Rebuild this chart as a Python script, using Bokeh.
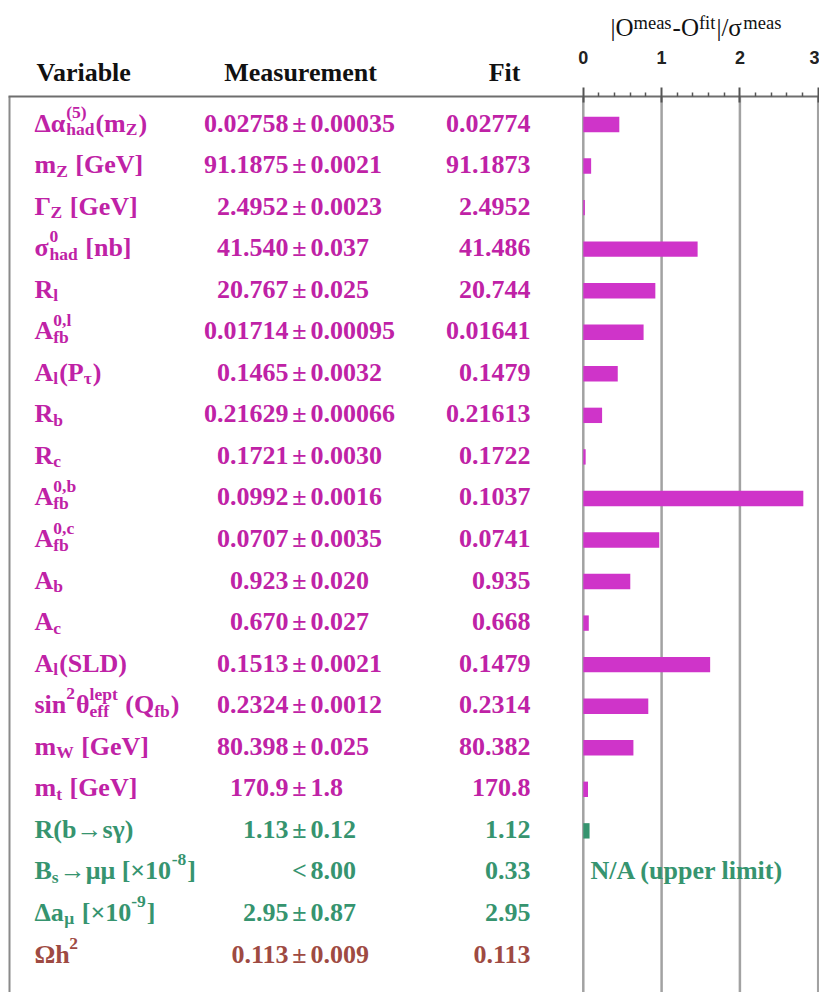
from bokeh.plotting import figure
from bokeh.models import ColumnDataSource, Range1d, LinearAxis, FixedTicker
from bokeh.core.properties import value
from bokeh.embed import file_html
from bokeh.resources import INLINE

# ---------------- data ----------------
variables = [
    "Δα^{(5)}_{had}(m_{Z})",
    "m_{Z} [GeV]",
    "Γ_{Z} [GeV]",
    "σ^{0}_{had} [nb]",
    "R_{l}",
    "A^{0,l}_{fb}",
    "A_{l}(P_{τ})",
    "R_{b}",
    "R_{c}",
    "A^{0,b}_{fb}",
    "A^{0,c}_{fb}",
    "A_{b}",
    "A_{c}",
    "A_{l}(SLD)",
    "sin^{2}θ^{lept}_{eff} (Q_{fb})",
    "m_{W} [GeV]",
    "m_{t} [GeV]",
    "R(b→sγ)",
    "B_{s}→μμ [×10^{-8}]",
    "Δa_{μ} [×10^{-9}]",
    "Ωh^{2}",
]
measurement = [
    "0.02758 ± 0.00035", "91.1875 ± 0.0021", "2.4952 ± 0.0023", "41.540 ± 0.037",
    "20.767 ± 0.025", "0.01714 ± 0.00095", "0.1465 ± 0.0032", "0.21629 ± 0.00066",
    "0.1721 ± 0.0030", "0.0992 ± 0.0016", "0.0707 ± 0.0035", "0.923 ± 0.020",
    "0.670 ± 0.027", "0.1513 ± 0.0021", "0.2324 ± 0.0012", "80.398 ± 0.025",
    "170.9 ± 1.8", "1.13 ± 0.12", "< 8.00", "2.95 ± 0.87", "0.113 ± 0.009",
]
fit = [
    "0.02774", "91.1873", "2.4952", "41.486", "20.744", "0.01641", "0.1479",
    "0.21613", "0.1722", "0.1037", "0.0741", "0.935", "0.668", "0.1479",
    "0.2314", "80.382", "170.8", "1.12", "0.33", "2.95", "0.113",
]
pull = [0.46, 0.10, 0.02, 1.46, 0.92, 0.77, 0.44, 0.24, 0.03, 2.81, 0.97,
        0.60, 0.07, 1.62, 0.83, 0.64, 0.06, 0.08, None, 0.0, 0.0]
group = ["ewpo"] * 17 + ["low"] * 3 + ["cosmo"]
headers = ["Variable", "Measurement", "Fit"]
axis_title = "|O^{meas}-O^{fit}|/σ^{meas}"
axis_ticks = [0, 1, 2, 3]
axis_minor = [0.2, 0.4, 0.6, 0.8, 1.2, 1.4, 1.6, 1.8, 2.2, 2.4, 2.6, 2.8]

TEXT_COLOR = {"ewpo": "#bf22a6", "low": "#36946f", "cosmo": "#9e4a42"}
BAR_COLOR = {"ewpo": "#cf34c9", "low": "#36946f", "cosmo": "#9e4a42"}

# ---------------- layout helpers ----------------
W, H = 819, 992
def X(px):  # canvas pixel -> pull units
    return (px - 582.8) / 78.3
def Y(py):  # canvas pixel -> row units
    return (py - 124.0) / 41.55

SERIF = "Liberation Serif"
MAIN, SCRIPT = 26, 17.5
BOLD_W = {
    " ": .25, "(": .333, ")": .333, ",": .25, "-": .333, ".": .25, "/": .278,
    "<": .57, "[": .333, "]": .333, "|": .22, "±": .57, "×": .57, "→": 1.0,
    "A": .722, "B": .667, "D": .722, "G": .778, "L": .667, "P": .611, "Q": .778,
    "R": .722, "S": .556, "V": .722, "W": 1.0, "Z": .667,
    "a": .5, "b": .556, "c": .444, "d": .556, "e": .444, "f": .333, "h": .556,
    "i": .278, "l": .278, "m": .833, "n": .556, "p": .556, "s": .389, "t": .333,
    "Δ": .64, "α": .58, "Γ": .62, "σ": .58, "τ": .46, "θ": .52, "μ": .58,
    "γ": .5, "Ω": .78,
}
REG_W = {"|": .2, "O": .722, "-": .333, "/": .278, "m": .778, "e": .444,
         "a": .444, "s": .389, "f": .333, "i": .278, "t": .278, "σ": .6}

def tw(text, size, table):
    return sum(table.get(c, 0.5) for c in text) * size

def parse(s):
    segs = []
    i = 0
    while i < len(s):
        c = s[i]
        if c in "^_" and i + 1 < len(s) and s[i + 1] == "{":
            j = s.index("}", i)
            segs.append((s[i + 2:j], "sup" if c == "^" else "sub"))
            i = j + 1
        else:
            if segs and segs[-1][1] == "n":
                segs[-1] = (segs[-1][0] + c, "n")
            else:
                segs.append((c, "n"))
            i += 1
    return segs

def layout(s, main, script, table, sub_dy, sup_dy):
    out, cur, prev = [], 0.0, None
    for text, kind in parse(s):
        size = main if kind == "n" else script
        w = tw(text, size, table)
        lead = len(text) - len(text.lstrip(" "))
        shift = tw(" " * lead, size, table)
        if kind != "n" and prev is not None and prev[0] != kind:
            x0 = prev[1]
            cur = x0 + max(w, prev[2]) + 1
            prev = None
        else:
            x0 = cur
            cur += w + (1 if kind != "n" else 0)
            prev = (kind, x0, w) if kind != "n" else None
        dy = {"n": 0, "sub": sub_dy, "sup": sup_dy}[kind]
        out.append((text.strip(" "), x0 + shift, dy, size))
    return out

# ---------------- figure ----------------
p = figure(width=W, height=H,
           x_range=Range1d(X(0), X(W)), y_range=Range1d(Y(H), Y(0)),
           output_backend="svg", toolbar_location=None,
           x_axis_location=None, y_axis_location=None,
           min_border_left=0, min_border_right=0, min_border_bottom=0, min_border_top=0)
p.outline_line_color = None
for g in p.grid:
    g.visible = False

TOP = Y(96)      # table top line
BOTTOM = Y(H)

ticker = FixedTicker(ticks=axis_ticks, minor_ticks=axis_minor)
ax = LinearAxis(ticker=ticker, fixed_location=TOP, bounds=(X(8), X(W)))
ax.axis_line_color = "#6e6e6e"
ax.axis_line_width = 2
ax.major_tick_line_color = "#555555"
ax.major_tick_line_width = 2
ax.major_tick_in = 6
ax.major_tick_out = 9
ax.minor_tick_line_color = "#555555"
ax.minor_tick_line_width = 1.5
ax.minor_tick_in = 0
ax.minor_tick_out = 4
ax.major_label_standoff = 24
ax.major_label_text_font = "Liberation Sans"
ax.major_label_text_font_style = "bold"
ax.major_label_text_font_size = "18px"
ax.major_label_text_color = "#222222"
p.add_layout(ax, "above")

# vertical grid lines at the major ticks, starting at the table top line
p.segment(x0=axis_ticks, x1=axis_ticks, y0=[TOP] * len(axis_ticks), y1=[BOTTOM] * len(axis_ticks),
          line_color="#a2a2a2", line_width=2.5)
# left border of the table box
p.segment(x0=[X(9)], x1=[X(9)], y0=[TOP], y1=[BOTTOM], line_color="#8a8a8a", line_width=2)

# bars
rows = list(range(len(variables)))
bar_src = ColumnDataSource(dict(
    row=[r for r in rows if pull[r] is not None],
    pull=[pull[r] for r in rows if pull[r] is not None],
    color=[BAR_COLOR[group[r]] for r in rows if pull[r] is not None],
))
p.hbar(y="row", left=0, right="pull", height=0.37, fill_color="color",
       line_color=None, source=bar_src)

BASE = -1.5  # vertical text offset (px)

# variable column (rich text built from segments)
vs = dict(x=[], y=[], text=[], xo=[], yo=[], size=[], color=[])
for r, lab in enumerate(variables):
    for text, x0, dy, size in layout(lab, MAIN, SCRIPT, BOLD_W, 6, -11):
        vs["x"].append(X(34)); vs["y"].append(r); vs["text"].append(text)
        vs["xo"].append(x0); vs["yo"].append(BASE + dy)
        vs["size"].append(f"{size}px"); vs["color"].append(TEXT_COLOR[group[r]])
p.text(x="x", y="y", text="text", x_offset="xo", y_offset="yo",
       text_font_size="size", text_color="color", text_font=value(SERIF),
       text_font_style="bold", text_baseline="alphabetic", text_align="left",
       source=ColumnDataSource(vs))

# measurement column: value | sign | error
val, sign, err = [], [], []
for m in measurement:
    if "±" in m:
        a, b = m.split("±")
        val.append(a.strip()); sign.append("±"); err.append(b.strip())
    else:
        a, b = m.split(" ", 1)
        val.append(""); sign.append(a); err.append(b)
colors = [TEXT_COLOR[g] for g in group]
common = dict(text_font=value(SERIF), text_font_style="bold",
              text_font_size=f"{MAIN}px", text_baseline="alphabetic", y_offset=BASE)
p.text(x=[X(288)] * len(rows), y=rows, text=val, text_color=colors, text_align="right", **common)
p.text(x=[X(299)] * len(rows), y=rows, text=sign, text_color=colors, text_align="center", **common)
p.text(x=[X(310)] * len(rows), y=rows, text=err, text_color=colors, text_align="left", **common)
p.text(x=[X(530)] * len(rows), y=rows, text=fit, text_color=colors, text_align="right", **common)

# N/A note for upper-limit row
na_row = [r for r in rows if pull[r] is None]
p.text(x=[X(590)] * len(na_row), y=na_row, text=["N/A (upper limit)"] * len(na_row),
       text_color=[TEXT_COLOR[group[r]] for r in na_row], text_align="left", **common)

# header row (above the table box)
p.text(x=[X(36), X(300), X(520)], y=[Y(73)] * 3, text=headers,
       text_align=["left", "center", "right"], text_color="#111111",
       text_font=value(SERIF), text_font_style="bold", text_font_size=f"{MAIN}px",
       text_baseline="alphabetic", y_offset=BASE)

# axis title |O^meas - O^fit| / sigma^meas
ts = dict(x=[], y=[], text=[], xo=[], yo=[], size=[])
for text, x0, dy, size in layout(axis_title, 25, 18.5, REG_W, 5, -5):
    ts["x"].append(X(610)); ts["y"].append(Y(27)); ts["text"].append(text)
    ts["xo"].append(x0); ts["yo"].append(dy); ts["size"].append(f"{size}px")
p.text(x="x", y="y", text="text", x_offset="xo", y_offset="yo", text_font_size="size",
       text_color="#111111", text_font=value(SERIF), text_baseline="alphabetic",
       text_align="left", source=ColumnDataSource(ts))

open("out.html", "w").write(file_html(p, INLINE))
